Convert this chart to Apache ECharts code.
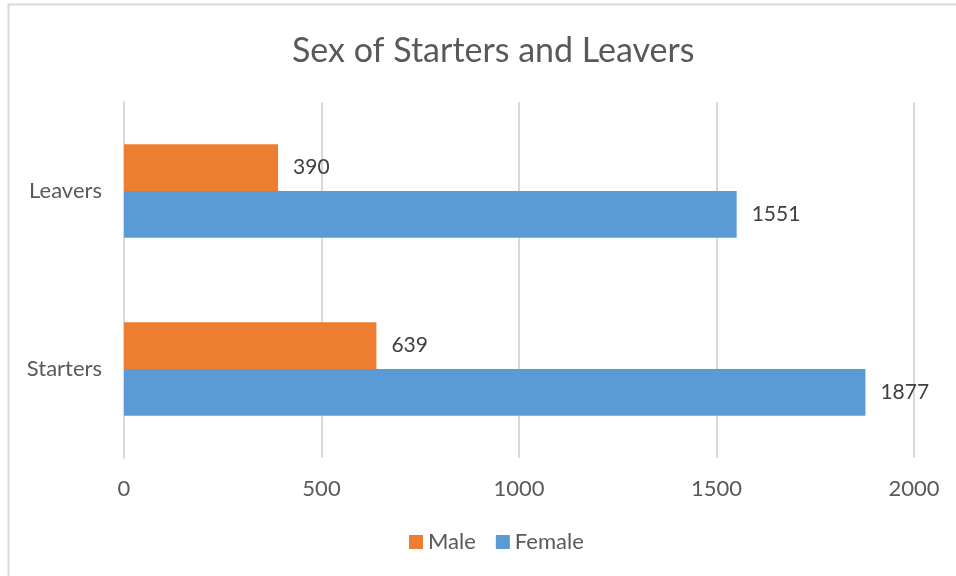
<!DOCTYPE html>
<html>
<head>
<meta charset="utf-8">
<script src="https://cdn.jsdelivr.net/npm/echarts@6/dist/echarts.min.js"></script>
<style>
  html, body { margin: 0; padding: 0; background: #fff; }
  #chart-container { width: 956px; height: 576px; }
</style>
</head>
<body>
<div id="chart-container"></div>
<script>
var categories = ['Starters', 'Leavers'];
var maleData = [639, 390];
var femaleData = [1877, 1551];
var seriesNames = ['Male', 'Female'];
var xTicks = [0, 500, 1000, 1500, 2000];

(function () {
    var domChart = document.getElementById('chart-container');
    var ioChart = echarts.init(domChart);
    var fontName = 'Lato, "Open Sans", sans-serif';
    var labelStyle = {
        show: true,
        position: 'right',
        distance: 15,
        color: '#404040',
        fontSize: 21,
        fontFamily: fontName
    };
    var chartOption = {
        backgroundColor: '#fff',
        textStyle: { fontFamily: fontName },
        graphic: [
            {
                type: 'rect',
                shape: { x: 8.5, y: 4.5, width: 1000, height: 700 },
                style: { fill: 'none', stroke: '#d9d9d9', lineWidth: 2 },
                silent: true
            }
        ],
        title: {
            text: 'Sex of Starters and Leavers',
            left: 287,
            top: 29,
            textStyle: {
                color: '#595959',
                fontSize: 34,
                fontWeight: 'normal',
                fontFamily: fontName
            }
        },
        legend: {
            bottom: 18,
            left: 404,
            data: seriesNames,
            icon: 'rect',
            itemWidth: 14,
            itemHeight: 14,
            itemGap: 20,
            textStyle: { color: '#595959', fontSize: 22, fontFamily: fontName }
        },
        grid: {
            left: 124,
            right: 42,
            top: 102,
            bottom: 118,
            containLabel: false
        },
        xAxis: {
            type: 'value',
            min: xTicks[0],
            max: xTicks[xTicks.length - 1],
            interval: xTicks[1] - xTicks[0],
            axisLine: { show: false },
            axisTick: { show: false },
            axisLabel: {
                color: '#595959', fontSize: 22, margin: 20, fontFamily: fontName,
                formatter: function (v) { return String(v); }
            },
            splitLine: { lineStyle: { color: '#d9d9d9', width: 2 } }
        },
        yAxis: {
            type: 'category',
            data: categories,
            axisLine: { show: true, lineStyle: { color: '#d9d9d9', width: 2 } },
            axisTick: { show: false },
            axisLabel: { color: '#595959', fontSize: 22, margin: 22, fontFamily: fontName }
        },
        series: [
            {
                name: 'Male',
                type: 'bar',
                data: maleData,
                barGap: '0%',
                barCategoryGap: '47.5%',
                itemStyle: { color: '#ED7D31' },
                label: labelStyle
            },
            {
                name: 'Female',
                type: 'bar',
                data: femaleData,
                barGap: '0%',
                barCategoryGap: '47.5%',
                itemStyle: { color: '#5B9BD5' },
                label: labelStyle
            }
        ]
    };
    ioChart.setOption(chartOption);
})();
</script>
</body>
</html>
